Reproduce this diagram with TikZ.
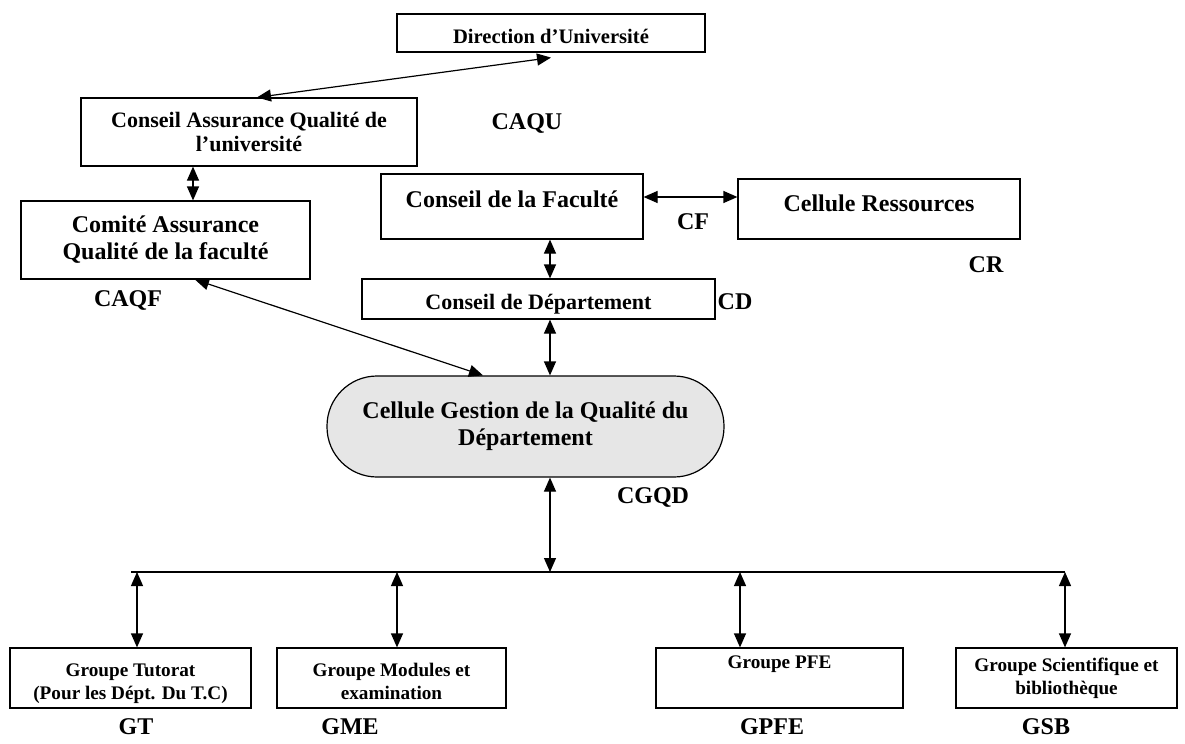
\documentclass[tikz,border=0pt]{standalone}
\usepackage{fontspec}
\setmainfont{Liberation Serif}
\usetikzlibrary{arrows.meta, positioning}
\definecolor{cellgray}{RGB}{230, 230, 230}

\begin{document}
\begin{tikzpicture}[
  x=0.5pt, y=-0.5pt,
  font=\bfseries,
  >={Triangle[length=7pt,width=6pt]},
  orgbox/.style={
    draw=black,
    line width=0.6pt,
    fill=white,
    align=center,
    inner sep=0pt,
    font=\fontsize{12}{13.5}\selectfont\bfseries,
  },
  grpbox/.style={
    orgbox,
    minimum height=30pt,
    font=\fontsize{9.6}{11.5}\selectfont\bfseries,
  },
  tag/.style={
    font=\fontsize{12}{14}\selectfont\bfseries,
  },
  link/.style={<->, line width=0.6pt},
]
  \useasboundingbox (0,0) rectangle (1185,744);

  % === UNIVERSITY LEVEL ===
  \node[orgbox, minimum width=154pt, minimum height=19pt,
        font=\fontsize{10.3}{12}\selectfont\bfseries,
        text height=10pt, text depth=0pt] (dir) at (551,33) {Direction d’Université};
  \node[orgbox, minimum width=168pt, minimum height=34pt,
        font=\fontsize{11}{12}\selectfont\bfseries] (caqu) at (249,132)
        {Conseil Assurance Qualité de\\ l’université};
  \node[tag] (caqu-t) at (527,123) {CAQU};

  % === FACULTY LEVEL ===
  \node[orgbox, minimum width=144.5pt, minimum height=39pt] (caqf) at (165.5,240)
        {Comité Assurance\\ Qualité de la faculté};
  \node[tag] (caqf-t) at (128,300) {CAQF};

  \node[orgbox, minimum width=131pt, minimum height=32.5pt,
        text height=8pt, text depth=7pt] (cf) at (512,206.5) {Conseil de la Faculté};
  \node[tag] (cf-t) at (693,222) {CF};

  \node[orgbox, minimum width=141pt, minimum height=30pt,
        text height=8pt, text depth=6pt] (cr) at (879,209) {Cellule Ressources};
  \node[tag] (cr-t) at (986,265) {CR};

  % === DEPARTMENT LEVEL ===
  \node[orgbox, minimum width=176.5pt, minimum height=20pt,
        font=\fontsize{11}{12}\selectfont\bfseries,
        text height=10pt, text depth=0pt] (cd) at (538.5,299) {Conseil de Département};
  \node[tag] (cd-t) at (735,302) {CD};

  \node[orgbox, fill=cellgray, rounded corners=25pt,
        minimum width=198.5pt, minimum height=50.5pt] (cgqd) at (525.5,426.5)
        {Cellule Gestion de la Qualité du\\ Département};
  \node[tag] (cgqd-t) at (653,497) {CGQD};

  % === GROUPS ===
  \node[grpbox, minimum width=120.5pt, text height=21pt, text depth=0pt] (gt) at (130.5,678)
        {Groupe Tutorat\\ (Pour les Dépt. Du T.C)};
  \node[grpbox, minimum width=114.5pt, text height=21pt, text depth=0pt] (gme) at (391.5,678)
        {Groupe Modules et\\ examination};
  \node[grpbox, minimum width=123.5pt, text height=0pt, text depth=10pt] (gpfe) at (779.5,678)
        {Groupe PFE};
  \node[grpbox, minimum width=110.5pt] (gsb) at (1066.5,678)
        {Groupe Scientifique et\\ bibliothèque};

  \node[tag] (gt-t) at (136,727) {GT};
  \node[tag] (gme-t) at (350,727) {GME};
  \node[tag] (gpfe-t) at (772,727) {GPFE};
  \node[tag] (gsb-t) at (1046,727) {GSB};

  % bus line
  \coordinate (bus-l) at (131,572);
  \coordinate (bus-r) at (1065,572);
  \draw[line width=0.6pt] (bus-l) -- (bus-r);

  % Links
  \draw[link] ([xshift=4pt]caqu.north) -- ([yshift=-2.5pt]dir.south);
  \draw[link] (caqu.south -| 193,0) -- (caqf.north -| 193,0);
  \draw[link] (caqf.south -| 195,0) -- (cgqd.north -| 483,0);
  \draw[link] (cf.east |- 0,197) -- (cr.west |- 0,197);
  \draw[link] (cf.south -| 550,0) -- (cd.north -| 550,0);
  \draw[link] (cd.south -| 550,0) -- (cgqd.north -| 550,0);
  \draw[link] (cgqd.south -| 550,0) -- (bus-l -| 550,0);

  \draw[link] (bus-l -| 137,0) -- (gt.north -| 137,0);
  \draw[link] (bus-l -| 397,0) -- (gme.north -| 397,0);
  \draw[link] (bus-l -| 740,0) -- (gpfe.north -| 740,0);
  \draw[link] (bus-r) -- (gsb.north -| bus-r);

\end{tikzpicture}
\end{document}
